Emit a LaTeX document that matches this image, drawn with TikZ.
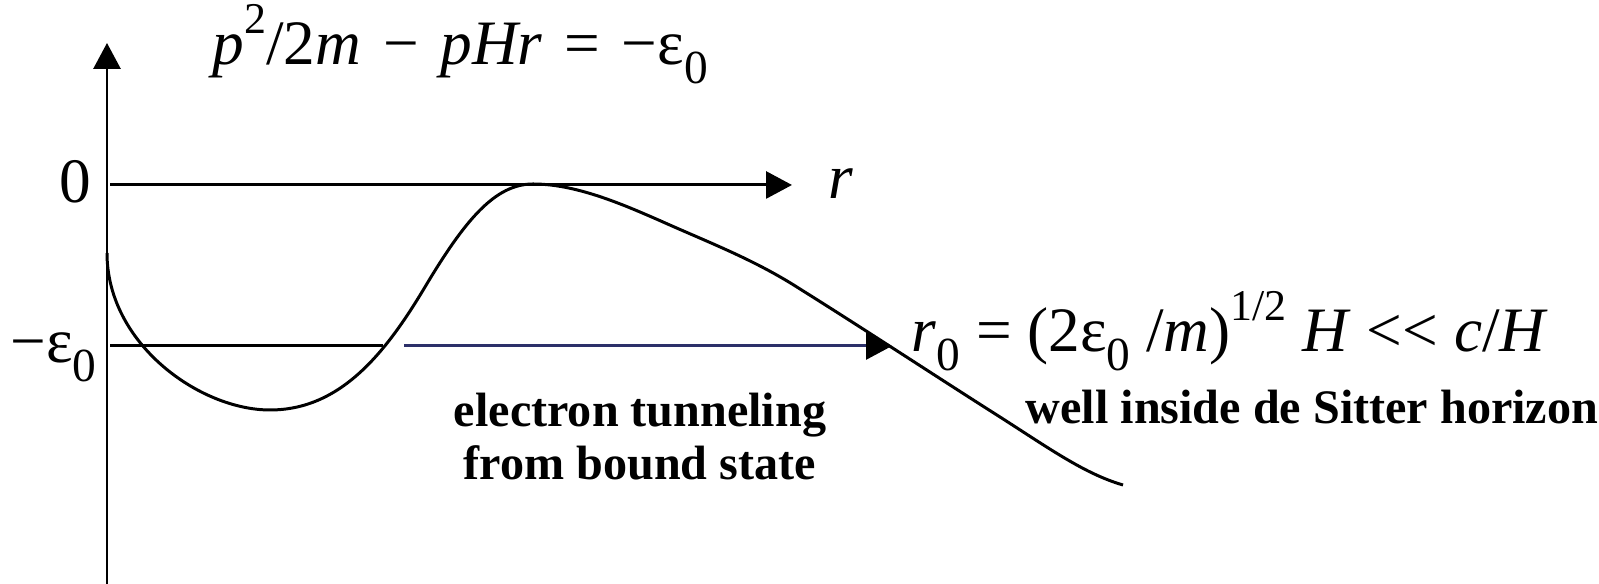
\documentclass[tikz,border=0pt]{standalone}
\usepackage{fontspec}
\setmainfont{Liberation Serif}
\usetikzlibrary{arrows.meta,positioning}
\definecolor{navy}{RGB}{44,48,105}
\newcommand{\lowidx}[1]{\raisebox{-0.3em}{\fontsize{13.5}{14}\selectfont #1}}
\newcommand{\upidx}[1]{\raisebox{0.5em}{\fontsize{12.5}{13}\selectfont #1}}
\newcommand{\gap}{\hspace{0.06cm}}

\begin{document}
\begin{tikzpicture}[
    axis/.style={line width=0.85pt, -{Triangle[length=2.6mm, width=2.7mm]}},
    curve/.style={line width=0.85pt},
    lbl/.style={font=\fontsize{18}{20}\selectfont, inner sep=0pt},
    note/.style={font=\fontsize{13.7}{15.1}\selectfont\bfseries, align=center, inner sep=0pt}
]
\useasboundingbox (0,0) rectangle (15.99,5.84);

% Axes
\coordinate (base) at (1.07,0);
\coordinate (ytop) at (1.07,5.41);
\coordinate (zero) at (1.10,3.99);
\coordinate (xend) at (7.92,3.99);
\draw[axis] (base) -- (ytop);
\draw[axis] (zero) -- (xend);

% Bound-state level
\coordinate (lvla) at (1.10,2.38);
\coordinate (lvlb) at (3.83,2.38);
\coordinate (tuna) at (4.04,2.38);
\coordinate (tunb) at (8.92,2.38);
\draw[curve] (lvla) -- (lvlb);
\draw[line width=0.85pt, navy, -{Triangle[length=2.6mm, width=2.7mm, black]}] (tuna) -- (tunb);

% Potential
\draw[curve] (1.07,3.31) .. controls (1.07,2.40) and (2.00,1.74) .. (2.70,1.74)
    .. controls (3.40,1.74) and (3.85,2.30) .. (4.25,2.97)
    .. controls (4.65,3.64) and (4.95,4.00) .. (5.33,4.00)
    .. controls (5.75,4.00) and (6.20,3.81) .. (6.63,3.62)
    .. controls (7.10,3.41) and (7.55,3.24) .. (8.00,2.95)
    .. controls (8.64,2.55) and (9.40,2.05) .. (10.00,1.67)
    .. controls (10.50,1.35) and (10.85,1.10) .. (11.23,0.99);

% Labels
\node[lbl, anchor=base west] (eqn) at (2.12,5.19)
    {\textit{p}\upidx{2}/2\textit{m}\gap{} − \gap\textit{pHr}\gap{} = \gap−ε\lowidx{0}};
\node[lbl, anchor=base east] (lzero) at (0.92,3.81) {0};
\node[lbl, anchor=base west] (lr) at (8.28,3.85) {\textit{r}};
\node[lbl, anchor=base west] (leps) at (0.10,2.21) {−ε\lowidx{0}};
\node[lbl, anchor=base west] (lrad) at (9.11,2.32)
    {\textit{r}\lowidx{0} = (2ε\lowidx{0} /\textit{m})\upidx{1/2} \textit{H} <{}< \textit{c}/\textit{H}};
\node[note, anchor=base] (tunnel) at (6.40,1.04) {electron tunneling\\from bound state};
\node[note, anchor=base west] (horizon) at (10.25,1.60) {well inside de Sitter horizon};

\end{tikzpicture}
\end{document}
